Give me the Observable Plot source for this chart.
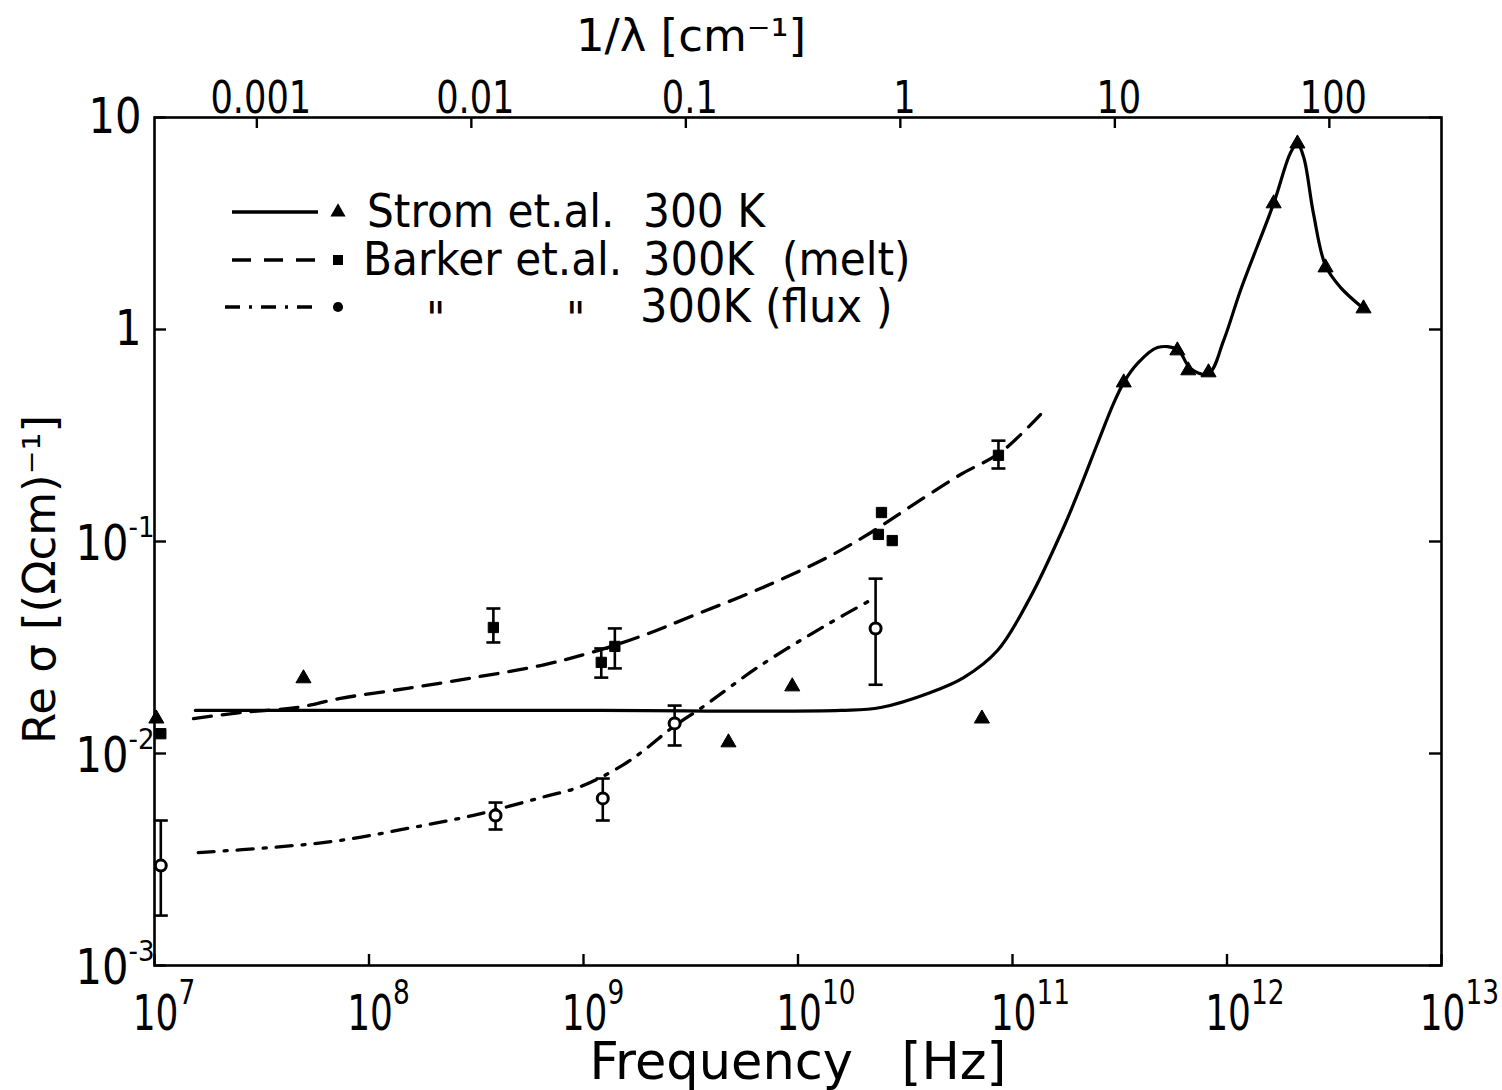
<!DOCTYPE html>
<html>
<head>
<meta charset="utf-8">
<script src="https://cdn.jsdelivr.net/npm/d3@7"></script>
<script src="https://cdn.jsdelivr.net/npm/@observablehq/plot@0.6"></script>
<style>
  html, body { margin: 0; padding: 0; background: #fff; }
  #chart { width: 1502px; height: 1090px; }
</style>
</head>
<body>
<div id="chart"></div>
<script>
// ---------- axis data ----------
const xTicks = [1e7, 1e8, 1e9, 1e10, 1e11, 1e12, 1e13];
const xTickExp = ["7", "8", "9", "10", "11", "12", "13"];
const yTicks = [10, 1, 0.1, 0.01, 0.001];
const yTickBase = ["10", "1", "10", "10", "10"];
const yTickExp = ["", "", "-1", "-2", "-3"];
const topTicks = [0.001, 0.01, 0.1, 1, 10, 100];          // 1/λ in cm^-1
const topTickLabels = ["0.001", "0.01", "0.1", "1", "10", "100"];
const lightSpeed = 3e10;                                    // cm/s, f = c·(1/λ)

// ---------- Strom et al. 300 K (solid curve + triangles) ----------
const stromCurveF = [1.55e7, 1.40e8, 1.20e9, 1.58e10, 2.43e10, 4.15e10, 5.92e10, 8.51e10, 1.21e11, 1.73e11,
  2.07e11, 2.49e11, 2.96e11, 3.30e11, 3.83e11, 4.74e11, 5.87e11, 6.76e11, 8.20e11, 9.64e11,
  1.16e12, 1.65e12, 1.98e12, 2.13e12, 2.28e12, 2.53e12, 2.88e12, 3.38e12, 4.33e12];
const stromCurveS = [0.01596, 0.01596, 0.01596, 0.01596, 0.01648, 0.0194, 0.0228, 0.0306, 0.0545, 0.1164,
  0.180, 0.290, 0.448, 0.562, 0.692, 0.822, 0.805, 0.655, 0.619, 0.887,
  1.545, 3.93, 6.84, 7.53, 6.47, 3.52, 2.00, 1.58, 1.256];
const stromPtsF = [1.02e7, 4.95e7, 4.74e9, 9.4e9, 7.2e10, 3.30e11, 5.87e11, 6.6e11, 8.2e11, 1.65e12, 2.13e12, 2.88e12, 4.33e12];
const stromPtsS = [0.0146, 0.0226, 0.01127, 0.0207, 0.0146, 0.562, 0.796, 0.641, 0.627, 3.93, 7.53, 1.96, 1.256];

// ---------- Barker et al. 300 K (melt) (dashed curve + squares) ----------
const meltCurveF = [1.52e7, 2.52e7, 4.65e7, 7.36e7, 1.51e8, 3.07e8, 6.31e8, 1.08e9, 1.85e9, 3.26e9,
  6.68e9, 1.37e10, 2.18e10, 3.34e10, 5.73e10, 8.79e10, 1.35e11];
const meltCurveS = [0.0146, 0.0156, 0.0165, 0.0182, 0.0203, 0.0228, 0.0260, 0.0299, 0.0357, 0.0448,
  0.0600, 0.0841, 0.110, 0.146, 0.207, 0.263, 0.397];
const meltPtsF = [1.07e7, 3.8e8, 1.21e9, 1.40e9, 2.45e10, 2.37e10, 2.75e10, 8.6e10];
const meltPtsS = [0.0124, 0.0393, 0.0269, 0.032, 0.137, 0.108, 0.101, 0.255];
const meltErrF = [3.8e8, 1.21e9, 1.40e9, 8.6e10];
const meltErrLo = [0.0334, 0.0228, 0.0252, 0.221];
const meltErrHi = [0.0483, 0.0313, 0.0389, 0.299];

// ---------- Barker et al. 300 K (flux) (dash-dot curve + circles) ----------
const fluxCurveF = [1.60e7, 3.59e7, 7.36e7, 1.51e8, 3.07e8, 6.31e8, 9.69e8, 1.49e9, 1.91e9, 2.63e9,
  3.51e9, 6.68e9, 1.37e10, 2.25e10];
const fluxCurveS = [0.00341, 0.00361, 0.00389, 0.00443, 0.00511, 0.00619, 0.00698, 0.00869, 0.01033, 0.0134,
  0.01629, 0.0260, 0.0406, 0.0538];
const fluxPtsF = [1.07e7, 3.89e8, 1.23e9, 2.66e9, 2.30e10];
const fluxPtsS = [0.00296, 0.0051, 0.00614, 0.01387, 0.0389];
const fluxErrLo = [0.00172, 0.00438, 0.00483, 0.01091, 0.0211];
const fluxErrHi = [0.00483, 0.00587, 0.00762, 0.01683, 0.0668];

// ---------- layout ----------
const W = 1502, H = 1090;
const mL = 154, mR = 61, mT = 117, mB = 125;
const frameW = W - mL - mR, frameH = H - mT - mB;
const FONT = "'DejaVu Sans', 'Noto Sans', sans-serif";

const zip = (xs, ys) => xs.map((x, i) => ({x, y: ys[i]}));
const stromCurve = zip(stromCurveF, stromCurveS);
const stromPts = zip(stromPtsF, stromPtsS);
const meltCurve = zip(meltCurveF, meltCurveS);
const meltPts = zip(meltPtsF, meltPtsS);
const meltErr = meltErrF.map((x, i) => ({x, lo: meltErrLo[i], hi: meltErrHi[i]}));
const fluxCurve = zip(fluxCurveF, fluxCurveS);
const fluxPts = zip(fluxPtsF, fluxPtsS);
const fluxErr = fluxPtsF.map((x, i) => ({x, lo: fluxErrLo[i], hi: fluxErrHi[i]}));
const allErr = meltErr.concat(fluxErr);

const capSymbol = { draw(ctx) { ctx.moveTo(-7, 0); ctx.lineTo(7, 0); } };
const idx = yTicks.map((d, i) => i);
const T = {fill: "black", lineAnchor: "middle"};

// font sizes double as keys for the horizontal condensing below
const FS = {xBase: 50, xExp: 33, top: 44, yBase: 49, yExp: 29};

const chart = Plot.plot({
  width: W, height: H,
  marginLeft: mL, marginRight: mR, marginTop: mT, marginBottom: mB,
  x: {type: "log", domain: [1e7, 1e13], axis: null},
  y: {type: "log", domain: [1e-3, 10], axis: null},
  style: {fontFamily: FONT, background: "white", color: "black", overflow: "visible"},
  marks: [
    // curves
    Plot.line(stromCurve, {x: "x", y: "y", curve: "catmull-rom", stroke: "black", strokeWidth: 3.2}),
    Plot.line(meltCurve, {x: "x", y: "y", curve: "catmull-rom", stroke: "black", strokeWidth: 3.3, strokeDasharray: "18,11"}),
    Plot.line(fluxCurve, {x: "x", y: "y", curve: "catmull-rom", stroke: "black", strokeWidth: 3.3, strokeDasharray: "16,10,3,10"}),
    // error bars
    Plot.ruleX(allErr, {x: "x", y1: "lo", y2: "hi", stroke: "black", strokeWidth: 2.6}),
    Plot.dot(allErr, {x: "x", y: "lo", symbol: capSymbol, r: 5, fill: "none", stroke: "black", strokeWidth: 2.6}),
    Plot.dot(allErr, {x: "x", y: "hi", symbol: capSymbol, r: 5, fill: "none", stroke: "black", strokeWidth: 2.6}),
    // points
    Plot.dot(stromPts, {x: "x", y: "y", symbol: "triangle", r: 5.6, fill: "black", stroke: "black", strokeWidth: 1}),
    Plot.dot(meltPts, {x: "x", y: "y", symbol: "square", r: 5.8, fill: "black", stroke: "black", strokeWidth: 1}),
    Plot.dot(fluxPts, {x: "x", y: "y", symbol: "circle", r: 5.5, fill: "white", stroke: "black", strokeWidth: 3}),
    // frame and inward ticks
    Plot.frame({stroke: "black", strokeWidth: 2.6}),
    Plot.ruleX(xTicks, {x: d => d, insetTop: frameH - 11, stroke: "black", strokeWidth: 2.4}),
    Plot.ruleX(topTicks, {x: d => d * lightSpeed, insetBottom: frameH - 11, stroke: "black", strokeWidth: 2.4}),
    Plot.ruleY(yTicks, {y: d => d, insetRight: frameW - 12, stroke: "black", strokeWidth: 2.4}),
    Plot.ruleY(yTicks, {y: d => d, insetLeft: frameW - 12, stroke: "black", strokeWidth: 2.4}),
    // bottom tick labels
    Plot.text(xTicks, {...T, x: d => d, frameAnchor: "bottom", text: () => "10", textAnchor: "end", dx: 24, dy: 48, fontSize: FS.xBase}),
    Plot.text(xTicks, {...T, x: d => d, frameAnchor: "bottom", text: (d, i) => xTickExp[i], textAnchor: "start", dx: 24, dy: 28, fontSize: FS.xExp}),
    // top tick labels
    Plot.text(topTicks, {...T, x: d => d * lightSpeed, frameAnchor: "top", text: (d, i) => topTickLabels[i], dx: 4, dy: -19, fontSize: FS.top}),
    // left tick labels
    Plot.text(idx.filter(i => !yTickExp[i]), {...T, y: i => yTicks[i], frameAnchor: "left", text: i => yTickBase[i], textAnchor: "end", dx: -13, fontSize: FS.yBase}),
    Plot.text(idx.filter(i => yTickExp[i]), {...T, y: i => yTicks[i], frameAnchor: "left", text: i => yTickBase[i], textAnchor: "end", dx: -26, dy: 3, fontSize: FS.yBase}),
    Plot.text(idx.filter(i => yTickExp[i]), {...T, y: i => yTicks[i], frameAnchor: "left", text: i => yTickExp[i], textAnchor: "start", dx: -26, dy: -14, fontSize: FS.yExp}),
    // axis titles
    Plot.text(["Frequency   [Hz]"], {...T, frameAnchor: "bottom", textAnchor: "middle", dy: 97, fontSize: 51}),
    Plot.text(["1/λ [cm⁻¹]"], {...T, frameAnchor: "top", textAnchor: "middle", dx: -107, dy: -81, fontSize: 45}),
    Plot.text(["Re σ [(Ωcm)⁻¹]"], {...T, frameAnchor: "left", textAnchor: "middle", rotate: -90, dx: -114, dy: 38, fontSize: 45})
  ]
});

document.getElementById("chart").appendChild(chart);

// condense glyphs horizontally (the original uses a narrow typeface)
function squeezeText(node, s) {
  const el = d3.select(node);
  const tr = el.attr("transform") || "";
  const x = el.attr("x");
  if (x != null && !/em$/.test(x)) el.attr("x", (+x) / s);
  el.attr("transform", `${tr} scale(${s},1)`);
}
const squeeze = [[FS.xBase, 0.72], [FS.xExp, 0.8], [FS.top, 0.8], [FS.yBase, 0.85], [FS.yExp, 0.9]];
squeeze.forEach(([fs, s]) => {
  d3.select(chart).selectAll(`g[font-size="${fs}"] text`).each(function () { squeezeText(this, s); });
});

// ---------- legend (drawn into the plot's svg) ----------
const svg = d3.select(chart);
const lg = svg.append("g").attr("font-family", FONT).attr("fill", "black").attr("text-anchor", "start");
const rows = [
  {y: 212, dash: null, sym: d3.symbolTriangle, x1: 232},
  {y: 260, dash: "19,13", sym: d3.symbolSquare, x1: 232},
  {y: 307, dash: "15,9,3,9", sym: d3.symbolCircle, x1: 225}
];
rows.forEach(r => {
  lg.append("line").attr("x1", r.x1).attr("x2", 318).attr("y1", r.y).attr("y2", r.y)
    .attr("stroke", "black").attr("stroke-width", 3.4).attr("stroke-dasharray", r.dash);
  lg.append("path").attr("d", d3.symbol(r.sym, r.sym === d3.symbolCircle ? 80 : 100)())
    .attr("transform", `translate(338,${r.y})`).attr("fill", "black");
});
const legendTexts = [
  {x: 367, y: 227, t: "Strom et.al.", s: 0.9},
  {x: 643, y: 227, t: "300 K", s: 0.9},
  {x: 363, y: 275, t: "Barker et.al.", s: 0.9},
  {x: 643, y: 275, t: "300K", s: 0.92},
  {x: 782, y: 275, t: "(melt)", s: 0.9},
  {x: 426, y: 335, t: "\"", s: 0.9},
  {x: 566, y: 335, t: "\"", s: 0.9},
  {x: 640, y: 322, t: "300K", s: 0.92},
  {x: 765, y: 322, t: "(flux )", s: 0.92}
];
legendTexts.forEach(d => {
  lg.append("text").attr("transform", `translate(${d.x},${d.y}) scale(${d.s},1)`).attr("font-size", 47).text(d.t);
});
</script>
</body>
</html>
